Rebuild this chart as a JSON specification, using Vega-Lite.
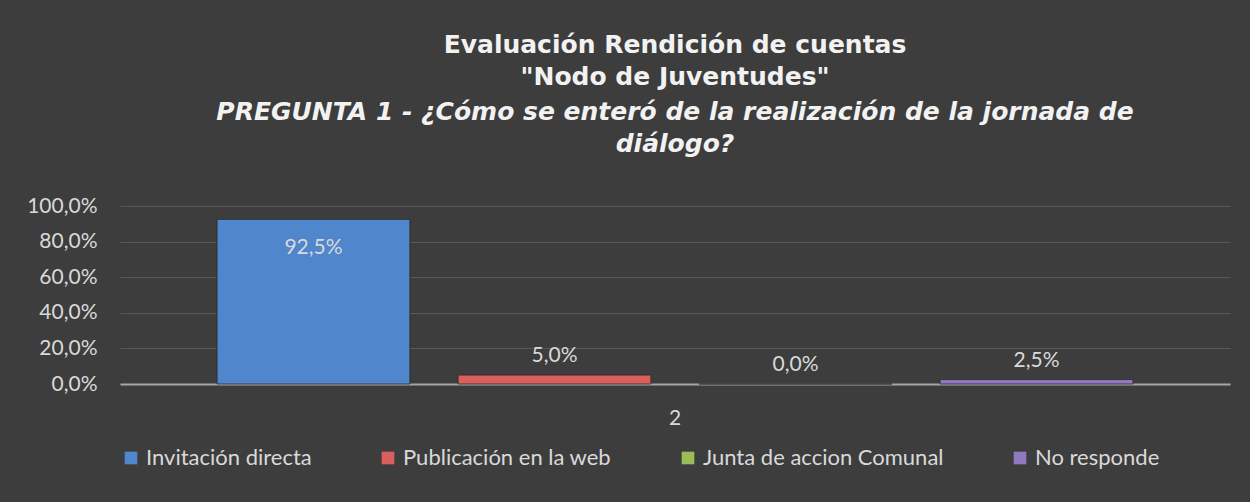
{
  "$schema": "https://vega.github.io/schema/vega-lite/v6.json",
  "width": 1110,
  "height": 178,
  "autosize": {"type": "none"},
  "padding": {"left": 120, "top": 206, "right": 20, "bottom": 118},
  "background": "#3d3d3d",
  "title": {
    "text": ["Evaluación Rendición de cuentas", "\"Nodo de Juventudes\""],
    "subtitle": ["PREGUNTA 1 - ¿Cómo se enteró de la realización de la jornada de", "diálogo?"],
    "anchor": "middle",
    "font": "DejaVu Sans",
    "fontSize": 25,
    "fontWeight": "bold",
    "color": "#f2f2f2",
    "lineHeight": 32,
    "subtitleFont": "DejaVu Sans",
    "subtitleFontSize": 25,
    "subtitleFontWeight": "bold",
    "subtitleFontStyle": "italic",
    "subtitleColor": "#f2f2f2",
    "subtitleLineHeight": 32,
    "subtitlePadding": 10,
    "offset": 38
  },
  "config": {
    "locale": {"number": {"decimal": ",", "thousands": ".", "grouping": [3], "currency": ["$", ""]}},
    "view": {"stroke": null},
    "axis": {"labelFont": "Lato", "labelFontSize": 21, "labelColor": "#d9d9d9"},
    "legend": {"labelFont": "Lato", "labelFontSize": 22, "labelColor": "#d9d9d9"}
  },
  "data": {
    "values": [
      {"grupo": "2", "serie": "Invitación directa", "valor": 0.925},
      {"grupo": "2", "serie": "Publicación en la web", "valor": 0.05},
      {"grupo": "2", "serie": "Junta de accion Comunal", "valor": 0.0},
      {"grupo": "2", "serie": "No responde", "valor": 0.025}
    ]
  },
  "encoding": {
    "x": {
      "field": "grupo",
      "type": "nominal",
      "title": null,
      "scale": {"paddingInner": 0, "paddingOuter": 0.0757},
      "axis": {"labelAngle": 0, "domain": true, "domainColor": "#a6a6a6", "domainWidth": 2, "ticks": false, "labelPadding": 23, "grid": false}
    },
    "xOffset": {
      "field": "serie",
      "type": "nominal",
      "sort": ["Invitación directa", "Publicación en la web", "Junta de accion Comunal", "No responde"],
      "scale": {"paddingInner": 0.2, "paddingOuter": 0.1}
    },
    "y": {
      "field": "valor",
      "type": "quantitative",
      "title": null,
      "scale": {"domain": [0, 1]},
      "axis": {"format": ".1%", "values": [0, 0.2, 0.4, 0.6, 0.8, 1], "domain": false, "ticks": false, "labelPadding": 23, "grid": true, "gridColor": "#585858", "gridWidth": 1}
    }
  },
  "layer": [
    {
      "mark": {"type": "bar", "stroke": "#2a2a2a", "strokeWidth": 0.8},
      "encoding": {
        "color": {
          "field": "serie",
          "type": "nominal",
          "sort": ["Invitación directa", "Publicación en la web", "Junta de accion Comunal", "No responde"],
          "scale": {"range": ["#4f86cc", "#d95f5c", "#9bbb59", "#9278bf"]},
          "legend": {
            "title": null,
            "orient": "bottom",
            "direction": "horizontal",
            "symbolType": "square",
            "symbolSize": 160,
            "symbolStrokeWidth": 0,
            "columnPadding": 65,
            "labelOffset": 4,
            "labelLimit": 400,
            "offset": 19
          }
        }
      }
    },
    {
      "transform": [{"filter": "datum.valor > 0.5"}],
      "mark": {"type": "text", "dy": 29, "baseline": "middle", "font": "Lato", "fontSize": 21, "color": "#d9d9d9"},
      "encoding": {"text": {"field": "valor", "type": "quantitative", "format": ".1%"}}
    },
    {
      "transform": [{"filter": "datum.valor <= 0.5"}],
      "mark": {"type": "text", "dy": -19, "baseline": "middle", "font": "Lato", "fontSize": 21, "color": "#d9d9d9"},
      "encoding": {"text": {"field": "valor", "type": "quantitative", "format": ".1%"}}
    }
  ]
}
